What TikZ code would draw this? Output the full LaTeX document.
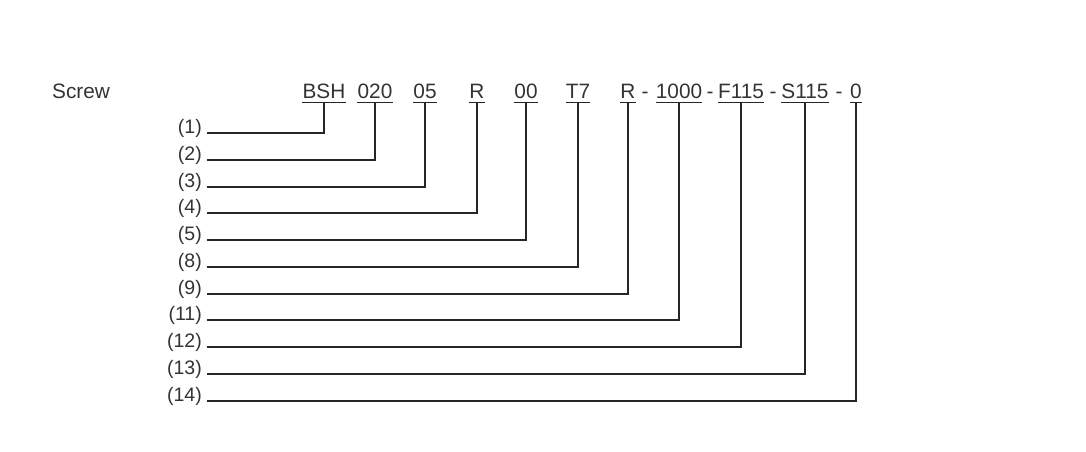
\documentclass[tikz,border=0pt]{standalone}
\usepackage{fontspec}
\setmainfont{Liberation Sans}
\usepackage{tikz}
\usetikzlibrary{positioning}

\begin{document}
\begin{tikzpicture}[x=1pt, y=-1pt,
    code/.style={inner xsep=0pt, inner ysep=4pt, anchor=base, text=black!80, font=\fontsize{20.8}{24}\selectfont},
    lbl/.style={inner xsep=5pt, inner ysep=0pt, anchor=base east, text=black!80, font=\fontsize{19.5}{23}\selectfont},
    conn/.style={line width=1.1pt, black!85}]

    \useasboundingbox (0,0) rectangle (1086,452);

    % type code
    \node [code, anchor=base west] (screw) at (52,98) {Screw};
    \node [code] (bsh) at (324,98) {BSH};
    \node [code] (dia) at (375,98) {020};
    \node [code] (lead) at (425,98) {05};
    \node [code] (dir) at (477,98) {R};
    \node [code] (nut) at (526,98) {00};
    \node [code] (acc) at (578,98) {T7};
    \node [code] (thr) at (628,98) {R};
    \node [code] (d1) at (645,98) {-};
    \node [code] (len) at (679,98) {1000};
    \node [code] (d2) at (710,98) {-};
    \node [code] (fix) at (741,98) {F115};
    \node [code] (d3) at (773,98) {-};
    \node [code] (sup) at (805,98) {S115};
    \node [code] (d4) at (839,98) {-};
    \node [code] (opt) at (856,98) {0};

    % item numbers
    \node [lbl] (l1) at (207,133) {(1)};
    \node [lbl] (l2) at (207,160) {(2)};
    \node [lbl] (l3) at (207,187) {(3)};
    \node [lbl] (l4) at (207,213) {(4)};
    \node [lbl] (l5) at (207,240) {(5)};
    \node [lbl] (l8) at (207,267) {(8)};
    \node [lbl] (l9) at (207,294) {(9)};
    \node [lbl] (l11) at (207,320) {(11)};
    \node [lbl] (l12) at (207,347) {(12)};
    \node [lbl] (l13) at (207,374) {(13)};
    \node [lbl] (l14) at (207,401) {(14)};

    % underlines
    \draw [conn] (bsh.south west) -- (bsh.south east);
    \draw [conn] (dia.south west) -- (dia.south east);
    \draw [conn] (lead.south west) -- (lead.south east);
    \draw [conn] (dir.south west) -- (dir.south east);
    \draw [conn] (nut.south west) -- (nut.south east);
    \draw [conn] (acc.south west) -- (acc.south east);
    \draw [conn] (thr.south west) -- (thr.south east);
    \draw [conn] (len.south west) -- (len.south east);
    \draw [conn] (fix.south west) -- (fix.south east);
    \draw [conn] (sup.south west) -- (sup.south east);
    \draw [conn] (opt.south west) -- (opt.south east);

    % leaders
    \draw [conn] (bsh.south) |- (l1.base east);
    \draw [conn] (dia.south) |- (l2.base east);
    \draw [conn] (lead.south) |- (l3.base east);
    \draw [conn] (dir.south) |- (l4.base east);
    \draw [conn] (nut.south) |- (l5.base east);
    \draw [conn] (acc.south) |- (l8.base east);
    \draw [conn] (thr.south) |- (l9.base east);
    \draw [conn] (len.south) |- (l11.base east);
    \draw [conn] (fix.south) |- (l12.base east);
    \draw [conn] (sup.south) |- (l13.base east);
    \draw [conn] (opt.south) |- (l14.base east);
\end{tikzpicture}
\end{document}
